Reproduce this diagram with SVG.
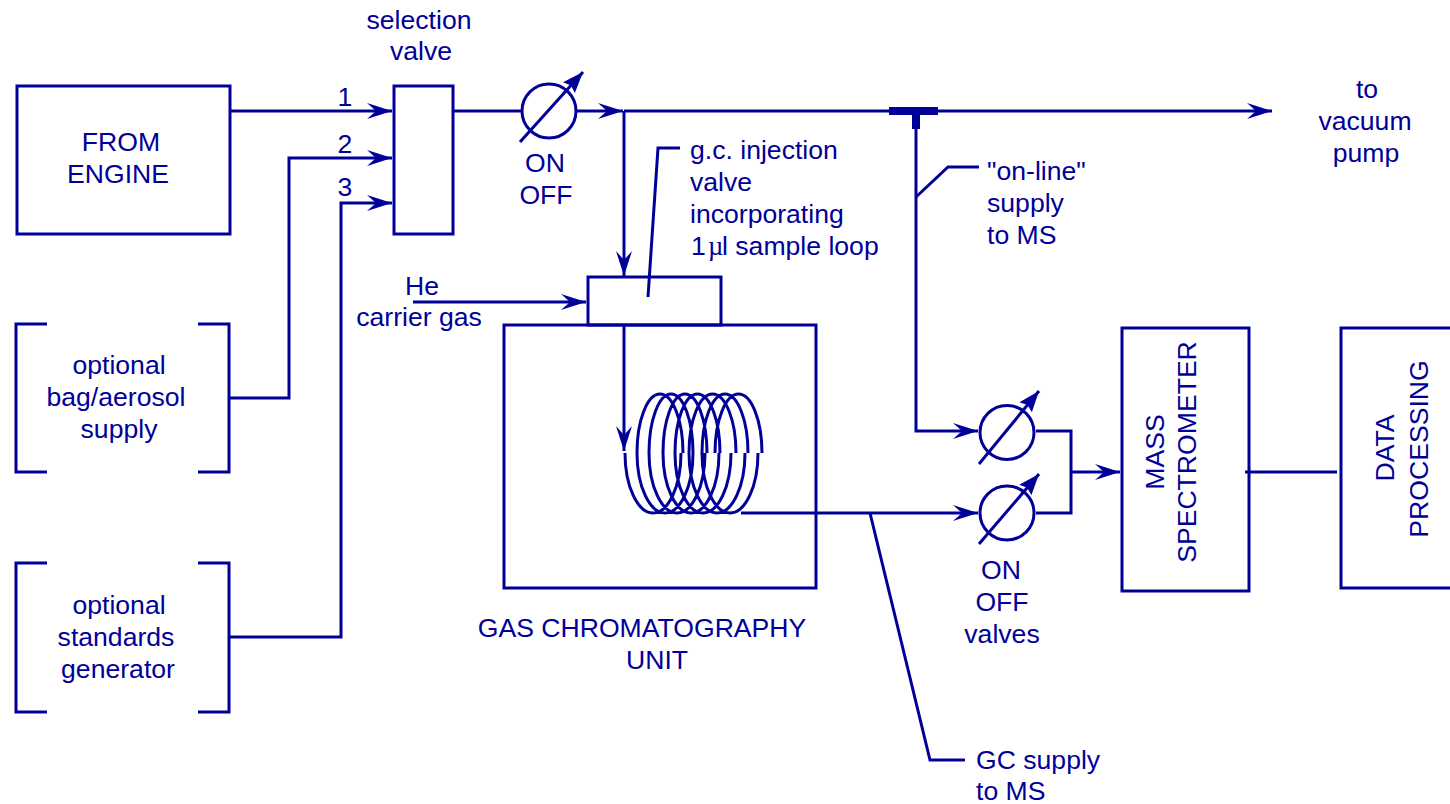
<svg xmlns="http://www.w3.org/2000/svg" width="1450" height="804" viewBox="0 0 1450 804">
<style>
.l{fill:none;stroke:#000099;stroke-width:3;stroke-linejoin:miter}
.a{marker-end:url(#arrow)}
.s{marker-end:url(#slash)}
.c{fill:none;stroke:#000099;stroke-width:3}
text{font-family:"Liberation Sans",Arial,sans-serif;font-size:26.6px;fill:#000099;text-anchor:middle}
.st{text-anchor:start}
</style>
<defs>
<marker id="arrow" markerUnits="userSpaceOnUse" markerWidth="30" markerHeight="20" viewBox="-27 -10 30 20" refX="0" refY="0" orient="auto" overflow="visible">
<polygon points="0,0 -25,-8 -16,0 -25,8" fill="#000099"/>
</marker>
<marker id="slash" markerUnits="userSpaceOnUse" markerWidth="30" markerHeight="20" viewBox="-27 -10 30 20" refX="0" refY="0" orient="auto" overflow="visible">
<polygon points="0,0 -21,-8 -18,0 -21,8" fill="#000099"/>
</marker>
</defs>
<rect width="1450" height="804" fill="#ffffff"/>
<g id="connectors">
<path class="l a" d="M230,111H392"/>
<path class="l a" d="M230,398H289V158H392"/>
<path class="l a" d="M230,637H341V203H392"/>
<path class="l" d="M453,111H521"/>
<path class="l a" d="M577,111H623"/>
<path class="l a" d="M624,111V276"/>
<path class="l" d="M624,111H889"/>
<path class="l a" d="M938,111H1272"/>
<path class="l a" d="M916,129V431H978"/>
<path class="l" d="M916,197L948,167H979"/>
<path class="l" d="M648,297L658,148H680"/>
<path class="l a" d="M413,302H586"/>
<path class="l a" d="M624,325V451"/>
<path class="l a" d="M741,513H978"/>
<path class="l" d="M870,513L930,760H965"/>
<path class="l" d="M1036,431H1071V513H1036"/>
<path class="l a" d="M1071,472H1120"/>
<path class="l" d="M1245,472H1337"/>
</g>
<g id="from-engine"><rect class="l" x="17" y="86" width="213" height="148"/><text x="121" y="151">FROM</text><text x="118" y="183">ENGINE</text></g>
<g id="bag-supply"><path class="l" d="M47,324H16V472H47M198,324H229V472H198"/><text x="119" y="374">optional</text><text x="116" y="406">bag/aerosol</text><text x="119" y="438">supply</text></g>
<g id="standards-generator"><path class="l" d="M47,563H16V712H47M198,563H229V712H198"/><text x="119" y="614">optional</text><text x="116" y="646">standards</text><text x="118" y="678">generator</text></g>
<g id="selection-valve"><rect class="l" x="394" y="86" width="59" height="148"/><text x="419" y="29">selection</text><text x="421" y="60">valve</text><text x="345" y="106">1</text><text x="345" y="153">2</text><text x="345" y="196">3</text></g>
<g id="on-off-valve"><circle class="l" cx="549" cy="111" r="27"/><path class="l s" d="M520,142L583,72"/><text x="545" y="172">ON</text><text x="546" y="204">OFF</text></g>
<g id="t-junction"><rect x="889" y="107" width="49" height="8" fill="#000099"/><rect x="912" y="115" width="8" height="14" fill="#000099"/></g>
<g id="vacuum-label"><text x="1367" y="98">to</text><text x="1365" y="130">vacuum</text><text x="1366" y="162">pump</text></g>
<g id="online-label"><text class="st" x="987" y="180">"on-line"</text><text class="st" x="987" y="212">supply</text><text class="st" x="987" y="244">to MS</text></g>
<g id="injection-valve"><rect class="l" x="588" y="277" width="133" height="48"/><text class="st" x="690" y="159">g.c. injection</text><text class="st" x="690" y="191">valve</text><text class="st" x="690" y="223">incorporating</text><text class="st" x="691" y="255">1<tspan x="708" style="font-family:'Liberation Serif',serif">µ</tspan><tspan x="722">l sample loop</tspan></text></g>
<g id="carrier-gas"><text x="422" y="295">He</text><text x="419" y="326">carrier gas</text></g>
<g id="gc-unit"><rect class="l" x="504" y="325" width="312" height="263"/><text x="642" y="637">GAS CHROMATOGRAPHY</text><text x="657" y="669">UNIT</text></g>
<g id="coil">
<path class="c" d="M637,453A23,59 0 0 1 683,453M649,453A22,59 0 0 1 693,453M663,453A22,59 0 0 1 707,453M675,453A22.500,59 0 0 1 720,453M689,453A23.500,59 0 0 1 736,453M702,453A23,59 0 0 1 748,453M715,453A23.500,59 0 0 1 762,453"/>
<path class="c" d="M625,453A28,60 0 0 0 681,453M637,453A28,60 0 0 0 693,453M649,453A28,60 0 0 0 705,453M663,453A28,60 0 0 0 719,453M675,453A28,60 0 0 0 731,453M689,453A28,60 0 0 0 745,453M702,453A28,60 0 0 0 758,453"/>
</g>
<g id="valve-upper"><circle class="l" cx="1007" cy="432.500" r="27"/><path class="l s" d="M979,464L1039,391"/></g>
<g id="valve-lower"><circle class="l" cx="1007" cy="513" r="27"/><path class="l s" d="M979,544L1039,474"/><text x="1001" y="579">ON</text><text x="1002" y="611">OFF</text><text x="1002" y="643">valves</text></g>
<g id="gc-supply-label"><text class="st" x="976" y="769">GC supply</text><text class="st" x="976" y="800">to MS</text></g>
<g id="mass-spectrometer"><rect class="l" x="1122" y="328" width="127" height="263"/><text transform="translate(1164,452) rotate(-90)">MASS</text><text transform="translate(1196,452) rotate(-90)">SPECTROMETER</text></g>
<g id="data-processing"><path class="l" d="M1450,328H1341V588H1450"/><text transform="translate(1394,448) rotate(-90)">DATA</text><text transform="translate(1428,449) rotate(-90)">PROCESSING</text></g>
</svg>
